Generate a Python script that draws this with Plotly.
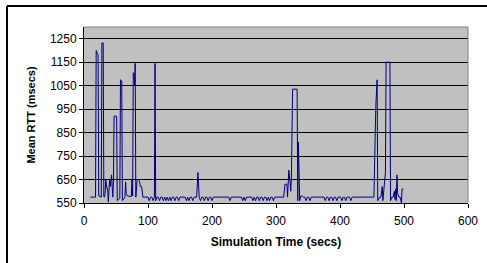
import plotly.graph_objects as go

# Simulation time (secs) and mean RTT (msecs)
time_s = [
    10, 12, 14, 16, 18, 19, 20, 21, 22, 23, 25, 27, 28, 30, 31, 32, 33, 34, 36, 37,
    38, 40, 41, 42, 43, 44, 45, 46, 47, 51, 52, 54, 56, 57, 59, 60, 62, 64, 65, 66,
    68, 70, 72, 74, 75, 76, 77, 78, 79, 80, 81, 83, 85, 87, 88, 90, 92, 94, 96, 98,
    100, 102, 104, 106, 108, 110, 111, 112, 114, 116, 118, 120, 122, 124, 126, 128, 130, 132, 134, 136,
    138, 140, 142, 144, 146, 148, 150, 152, 154, 156, 158, 160, 162, 164, 166, 168, 170, 172, 174, 176,
    178, 180, 182, 184, 186, 188, 190, 192, 194, 196, 198, 200, 202, 204, 206, 208, 210, 212, 214, 216,
    218, 220, 222, 224, 226, 228, 230, 232, 234, 236, 238, 240, 242, 244, 246, 248, 250, 252, 254, 256,
    258, 260, 262, 264, 266, 268, 270, 272, 274, 276, 278, 280, 282, 284, 286, 288, 290, 292, 294, 296,
    298, 300, 302, 304, 306, 308, 310, 312, 314, 317, 318, 320, 322, 323, 324, 326, 333, 334, 335, 337,
    339, 341, 343, 345, 347, 349, 351, 353, 355, 357, 359, 361, 363, 365, 367, 369, 371, 373, 375, 377,
    379, 381, 383, 385, 387, 389, 391, 393, 395, 397, 399, 401, 403, 405, 407, 409, 411, 413, 415, 417,
    419, 421, 423, 425, 427, 429, 431, 433, 435, 437, 439, 441, 443, 445, 447, 449, 451, 453, 456, 458,
    459, 462, 464, 466, 467, 469, 471, 472, 478, 479, 481, 483, 485, 486, 487, 488, 489, 490, 492, 494,
    495, 496, 497, 499,
]
mean_rtt_ms = [
    575, 575, 572, 572, 575, 1200, 1185, 1185, 1182, 580, 578, 575, 1232, 1232, 578, 575, 590, 650, 610, 610,
    555, 650, 620, 640, 670, 620, 575, 640, 920, 920, 560, 565, 570, 1075, 1070, 560, 570, 575, 640, 590,
    580, 578, 578, 578, 650, 580, 1105, 1100, 1050, 1145, 575, 650, 650, 640, 620, 620, 575, 575, 575, 575,
    575, 560, 575, 575, 560, 575, 1145, 560, 575, 575, 560, 575, 575, 560, 575, 560, 575, 560, 575, 560,
    575, 575, 560, 575, 575, 560, 575, 575, 575, 575, 575, 560, 575, 560, 575, 575, 560, 575, 575, 575,
    680, 575, 560, 575, 575, 560, 575, 575, 560, 575, 575, 560, 575, 575, 575, 575, 575, 575, 575, 575,
    575, 575, 575, 575, 575, 560, 575, 575, 575, 575, 575, 575, 575, 575, 575, 560, 575, 560, 575, 575,
    575, 575, 575, 560, 575, 560, 575, 575, 560, 575, 575, 560, 575, 575, 560, 575, 560, 575, 575, 560,
    575, 575, 575, 575, 575, 575, 575, 575, 630, 630, 575, 690, 640, 600, 650, 1035, 1035, 560, 810, 560,
    580, 580, 575, 575, 560, 575, 575, 560, 575, 575, 575, 575, 575, 575, 575, 575, 575, 575, 575, 560,
    575, 575, 560, 575, 575, 560, 575, 575, 560, 575, 575, 575, 560, 575, 575, 560, 575, 575, 575, 560,
    575, 575, 575, 575, 575, 575, 575, 575, 575, 575, 575, 575, 575, 575, 575, 575, 575, 575, 965, 1075,
    560, 575, 575, 620, 560, 620, 680, 1150, 1150, 560, 575, 575, 600, 565, 610, 560, 670, 590, 575, 575,
    560, 550, 610, 610,
]

x_ticks = [0, 100, 200, 300, 400, 500, 600]
y_ticks = [550, 650, 750, 850, 950, 1050, 1150, 1250]

fig = go.Figure()
fig.add_trace(go.Scatter(
    x=time_s, y=mean_rtt_ms, mode="lines",
    line=dict(color="#000080", width=1),
    hoverinfo="skip",
))

font_family = "Liberation Sans, Arial, sans-serif"

fig.update_layout(
    width=487, height=263,
    margin=dict(l=84, r=19, t=27, b=60, autoexpand=False),
    paper_bgcolor="white",
    plot_bgcolor="#c0c0c0",
    showlegend=False,
    font=dict(family=font_family, size=12, color="black"),
    xaxis=dict(
        range=[0, 600], tickvals=x_ticks, ticktext=[str(v) for v in x_ticks],
        showgrid=False, zeroline=False,
        showline=True, linecolor="black", linewidth=1,
        ticks="outside", ticklen=4, tickcolor="black",
        tickfont=dict(size=12), ticklabelstandoff=3,
        title=dict(text="<b>Simulation Time (secs)</b>", font=dict(size=12), standoff=10),
        automargin=False,
    ),
    yaxis=dict(
        range=[550, 1300], tickvals=y_ticks, ticktext=[str(v) for v in y_ticks],
        showgrid=True, gridcolor="black", gridwidth=1,
        zeroline=False,
        showline=True, linecolor="black", linewidth=1,
        ticks="outside", ticklen=4, tickcolor="black",
        tickfont=dict(size=12),
        title=dict(text="<b>Mean RTT (msecs)</b>", font=dict(size=11), standoff=12),
        automargin=False,
    ),
    shapes=[
        # plot area grey border (top and right)
        dict(type="line", xref="paper", yref="paper", x0=0, x1=1, y0=1, y1=1,
             line=dict(color="#808080", width=1)),
        dict(type="line", xref="paper", yref="paper", x0=1, x1=1, y0=0, y1=1,
             line=dict(color="#808080", width=1)),
        # outer chart frame (left and top edges)
        dict(type="line", xref="paper", yref="paper", x0=-0.2005, x1=-0.2005, y0=-0.35, y1=1.119,
             line=dict(color="black", width=2)),
        dict(type="line", xref="paper", yref="paper", x0=-0.2005, x1=1.06, y0=1.119, y1=1.119,
             line=dict(color="black", width=2)),
    ],
)

fig.write_html("out.html", config={"displayModeBar": False},
               post_script="document.body.style.margin='0';")
